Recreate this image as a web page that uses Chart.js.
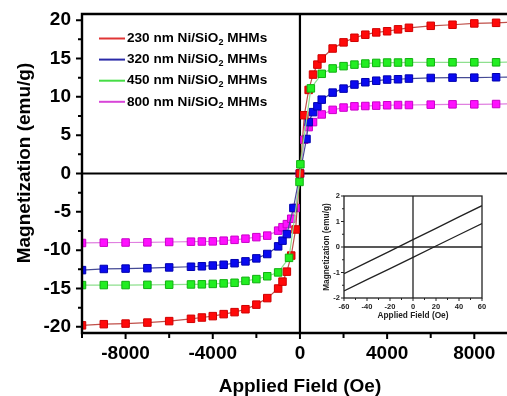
<!DOCTYPE html>
<html><head><meta charset="utf-8">
<script src="https://cdn.jsdelivr.net/npm/chart.js@4.4.1/dist/chart.umd.min.js"></script>
<style>
html,body{margin:0;padding:0;background:#fff;overflow:hidden;}
#wrap{position:relative;width:507px;height:396px;background:#fff;}
#main{position:absolute;left:0;top:0;}
#inset{position:absolute;left:306px;top:190px;}
</style></head><body>
<div id="wrap">
<canvas id="main" width="507" height="396"></canvas>
<canvas id="inset" width="184" height="134"></canvas>
</div>
<script>
// ---------- data (main panel) ----------
const fieldRed = [-10000,-9000,-8000,-7000,-6000,-5000,-4500,-4000,-3500,-3000,-2500,-2000,-1500,-1000,-800,-600,-400,-200,0,200,400,600,800,1000,1500,2000,2500,3000,3500,4000,4500,5000,6000,7000,8000,9000,10000];
const magRed = [-19.8,-19.65,-19.57,-19.44,-19.25,-18.95,-18.78,-18.6,-18.34,-18.08,-17.7,-17.1,-16.25,-15.0,-14.1,-12.8,-10.7,-7.3,0,7.6,10.9,12.9,14.2,15.0,16.3,17.1,17.7,18.1,18.4,18.55,18.8,19.0,19.26,19.4,19.57,19.65,19.75];

const fieldBlue = [-10000,-9000,-8000,-7000,-6000,-5000,-4500,-4000,-3500,-3000,-2500,-2000,-1500,-1000,-800,-600,-300,0,300,400,600,800,1000,1500,2000,2500,3000,3500,4000,4500,5000,6000,7000,8000,9000,10000];
const magBlue = [-12.6,-12.45,-12.4,-12.35,-12.25,-12.16,-12.1,-12.0,-11.9,-11.7,-11.46,-11.07,-10.5,-9.5,-8.76,-7.9,-4.5,0,4.5,6.7,8.0,8.76,9.63,10.55,11.07,11.6,11.9,12.1,12.25,12.29,12.38,12.46,12.5,12.5,12.55,12.6];

const fieldGreen = [-10000,-9000,-8000,-7000,-6000,-5000,-4500,-4000,-3500,-3000,-2500,-2000,-1500,-1000,-500,-20,20,500,1000,1500,2000,2500,3000,3500,4000,4500,5000,6000,7000,8000,9000,10000];
const magGreen = [-14.55,-14.55,-14.55,-14.52,-14.5,-14.47,-14.45,-14.4,-14.33,-14.25,-14.0,-13.77,-13.4,-12.9,-11.0,-1.1,1.2,11.1,13.0,13.7,14.0,14.2,14.34,14.42,14.47,14.47,14.5,14.5,14.5,14.5,14.5,14.55];

const fieldMagenta = [-10000,-9000,-8000,-7000,-6000,-5000,-4500,-4000,-3500,-3000,-2500,-2000,-1500,-1000,-800,-600,-400,-200,0,200,400,600,1000,1500,2000,2500,3000,3500,4000,4500,5000,6000,7000,8000,9000,10000];
const magMagenta = [-9.06,-9.02,-9.0,-8.98,-8.93,-8.89,-8.87,-8.85,-8.76,-8.65,-8.5,-8.3,-8.1,-7.45,-7.0,-6.6,-5.9,-4.5,0,4.4,6.05,6.7,7.7,8.3,8.6,8.76,8.8,8.85,8.9,8.93,8.93,8.98,9.02,9.02,9.06,9.08];

const seriesLabels = ['230 nm Ni/SiO', '320 nm Ni/SiO', '450 nm Ni/SiO', '800 nm Ni/SiO'];
const labelSuffix = ' MHMs';

const xTicksMain = [-8000,-4000,0,4000,8000];
const yTicksMain = [-20,-15,-10,-5,0,5,10,15,20];

// ---------- data (inset) ----------
const fieldInset = [-60,-40,-20,0,20,40,60];
const magInsetUpper = [-1.05,-0.6,-0.16,0.29,0.73,1.18,1.62];
const magInsetLower = [-1.72,-1.28,-0.85,-0.41,0.04,0.48,0.92];
const xTicksInset = [-60,-40,-20,0,20,40,60];
const yTicksInset = [-2,-1,0,1,2];

// ---------- styling ----------
const FONT = '"Liberation Sans", Arial, Helvetica, sans-serif';
Chart.defaults.font.family = FONT;
Chart.defaults.color = '#000';

const styles = [
  {fill:'#ff0a0a', edge:'#d00000', line:'#c0504a', legend:'#e03535'},
  {fill:'#0a0af0', edge:'#0000b0', line:'#454a95', legend:'#2a2aa8'},
  {fill:'#22ee22', edge:'#10b010', line:'#8ee08e', legend:'#45dd45'},
  {fill:'#ff10ff', edge:'#c800c8', line:'#e080e0', legend:'#d845d8'}
];

function toPts(xs, ys){ return xs.map((x,i)=>({x:x, y:ys[i]})); }
function mkSet(i, xs, ys, order){
  const s = styles[i];
  return {
    label: seriesLabels[i] + '2' + labelSuffix,
    data: toPts(xs, ys),
    showLine: true,
    borderColor: s.line,
    borderWidth: 1.2,
    tension: 0,
    pointStyle: 'rect',
    pointRadius: 5.3,
    pointBackgroundColor: s.fill,
    pointBorderColor: s.edge,
    pointBorderWidth: 1,
    order: order
  };
}
function noPad(s){ s.paddingLeft = 0; s.paddingRight = 0; s.paddingTop = 0; s.paddingBottom = 0; }

const mainDeco = {
  id: 'mainDeco',
  beforeDatasetsDraw(chart){
    const {ctx, chartArea:a, scales:{x, y}} = chart;
    ctx.save();
    ctx.strokeStyle = '#000';
    ctx.lineWidth = 2.2;
    const x0 = x.getPixelForValue(0), y0 = y.getPixelForValue(0);
    ctx.beginPath();
    ctx.moveTo(x0, a.top); ctx.lineTo(x0, a.bottom);
    ctx.moveTo(a.left, y0); ctx.lineTo(a.right, y0);
    ctx.stroke();
    ctx.restore();
  },
  afterDraw(chart){
    const {ctx, chartArea:a, scales:{x, y}} = chart;
    ctx.save();
    ctx.strokeStyle = '#000';
    ctx.lineWidth = 2.4;
    ctx.beginPath();
    ctx.moveTo(a.right, a.top); ctx.lineTo(a.left, a.top); ctx.lineTo(a.left, a.bottom); ctx.lineTo(a.right, a.bottom);
    ctx.stroke();
    // tick marks
    ctx.lineWidth = 2;
    ctx.beginPath();
    for (let v = -20; v <= 20.001; v += 2.5) {
      const py = y.getPixelForValue(v);
      const len = (Math.abs(v % 5) < 1e-6) ? 6 : 4;
      ctx.moveTo(a.left, py); ctx.lineTo(a.left - len, py);
    }
    for (let v = -10000; v <= 9000; v += 2000) {
      if (v < x.min) continue;
      const px = x.getPixelForValue(v);
      const len = (Math.abs(v % 4000) < 1e-6) ? 6 : 5;
      ctx.moveTo(px, a.bottom); ctx.lineTo(px, a.bottom + len);
    }
    ctx.stroke();
    // axis titles
    ctx.fillStyle = '#000';
    ctx.font = 'bold 19px ' + FONT;
    ctx.textAlign = 'center';
    ctx.textBaseline = 'middle';
    ctx.fillText('Applied Field (Oe)', x.getPixelForValue(0), 387);
    ctx.save();
    ctx.translate(25, 163);
    ctx.rotate(-Math.PI/2);
    ctx.fillText('Magnetization (emu/g)', 0, 0);
    ctx.restore();
    // legend
    ctx.textAlign = 'left';
    for (let i = 0; i < 4; i++) {
      const ly = 38.5 + i * 21.1;
      ctx.strokeStyle = styles[i].legend;
      ctx.lineWidth = 2;
      ctx.beginPath(); ctx.moveTo(99, ly); ctx.lineTo(125, ly); ctx.stroke();
      let tx = 127;
      ctx.font = 'bold 13.6px ' + FONT;
      ctx.fillStyle = '#000';
      ctx.fillText(seriesLabels[i], tx, ly);
      tx += ctx.measureText(seriesLabels[i]).width;
      ctx.font = 'bold 9px ' + FONT;
      ctx.fillText('2', tx, ly + 4);
      tx += ctx.measureText('2').width;
      ctx.font = 'bold 13.6px ' + FONT;
      ctx.fillText(labelSuffix, tx, ly);
    }
    ctx.restore();
  }
};

new Chart(document.getElementById('main'), {
  type: 'scatter',
  data: {
    datasets: [
      mkSet(0, fieldRed, magRed, 2),
      mkSet(1, fieldBlue, magBlue, 3),
      mkSet(2, fieldGreen, magGreen, 1),
      mkSet(3, fieldMagenta, magMagenta, 4)
    ]
  },
  options: {
    responsive: false,
    animation: false,
    events: [],
    layout: {autoPadding: false, padding: {top: 14, right: 0, left: 0, bottom: 0}},
    plugins: {legend: {display: false}, tooltip: {enabled: false}},
    scales: {
      x: {
        type: 'linear', min: -10000, max: 9500,
        afterBuildTicks: s => { s.ticks = xTicksMain.map(v => ({value: v})); },
        afterFit: s => { s.height = 63; noPad(s); },
        grid: {display: false, drawTicks: false},
        border: {display: false},
        ticks: {font: {size: 19, weight: 'bold'}, color: '#000', padding: 9, maxRotation: 0, autoSkip: false, callback: v => String(v)}
      },
      y: {
        type: 'linear', min: -20.8, max: 20.8,
        afterBuildTicks: s => { s.ticks = yTicksMain.map(v => ({value: v})); },
        afterFit: s => { s.width = 82; noPad(s); },
        grid: {display: false, drawTicks: false},
        border: {display: false},
        ticks: {font: {size: 19, weight: 'bold'}, color: '#000', padding: 11, autoSkip: false, callback: v => String(v)}
      }
    }
  },
  plugins: [mainDeco]
});

// ---------- inset ----------
const insetDeco = {
  id: 'insetDeco',
  beforeDatasetsDraw(chart){
    const {ctx, chartArea:a, scales:{x, y}} = chart;
    ctx.save();
    ctx.strokeStyle = '#222';
    ctx.lineWidth = 1.3;
    const x0 = x.getPixelForValue(0), y0 = y.getPixelForValue(0);
    ctx.beginPath();
    ctx.moveTo(x0, a.top); ctx.lineTo(x0, a.bottom);
    ctx.moveTo(a.left, y0); ctx.lineTo(a.right, y0);
    ctx.stroke();
    ctx.restore();
  },
  afterDraw(chart){
    const {ctx, chartArea:a, scales:{x, y}} = chart;
    ctx.save();
    ctx.strokeStyle = '#222';
    ctx.lineWidth = 1.3;
    ctx.strokeRect(a.left, a.top, a.right - a.left, a.bottom - a.top);
    ctx.lineWidth = 1;
    ctx.beginPath();
    for (let v = -2; v <= 2.001; v += 0.5) {
      const py = y.getPixelForValue(v);
      const len = (Math.abs(v % 1) < 1e-6) ? 3 : 2;
      ctx.moveTo(a.left, py); ctx.lineTo(a.left - len, py);
    }
    for (let v = -60; v <= 60; v += 10) {
      const px = x.getPixelForValue(v);
      const len = (Math.abs(v % 20) < 1e-6) ? 3 : 2;
      ctx.moveTo(px, a.bottom); ctx.lineTo(px, a.bottom + len);
    }
    ctx.stroke();
    ctx.fillStyle = '#222';
    ctx.font = 'bold 8.3px ' + FONT;
    ctx.textAlign = 'center';
    ctx.textBaseline = 'middle';
    ctx.fillText('Applied Field (Oe)', x.getPixelForValue(0), 126);
    ctx.save();
    ctx.translate(21, y.getPixelForValue(0));
    ctx.rotate(-Math.PI/2);
    ctx.fillText('Magnetization (emu/g)', 0, 0);
    ctx.restore();
    ctx.restore();
  }
};

new Chart(document.getElementById('inset'), {
  type: 'scatter',
  data: {
    datasets: [
      {data: toPts(fieldInset, magInsetUpper), showLine: true, borderColor: '#222', borderWidth: 1.3, pointRadius: 0},
      {data: toPts(fieldInset, magInsetLower), showLine: true, borderColor: '#222', borderWidth: 1.3, pointRadius: 0}
    ]
  },
  options: {
    responsive: false,
    animation: false,
    events: [],
    layout: {autoPadding: false, padding: {top: 6, right: 8, left: 0, bottom: 0}},
    plugins: {legend: {display: false}, tooltip: {enabled: false}},
    scales: {
      x: {
        type: 'linear', min: -60, max: 60,
        afterBuildTicks: s => { s.ticks = xTicksInset.map(v => ({value: v})); },
        afterFit: s => { s.height = 26; noPad(s); },
        grid: {display: false, drawTicks: false},
        border: {display: false},
        ticks: {font: {size: 7.5, weight: 'bold'}, color: '#222', padding: 4, maxRotation: 0, autoSkip: false, callback: v => String(v)}
      },
      y: {
        type: 'linear', min: -2, max: 2,
        afterBuildTicks: s => { s.ticks = yTicksInset.map(v => ({value: v})); },
        afterFit: s => { s.width = 38; noPad(s); },
        grid: {display: false, drawTicks: false},
        border: {display: false},
        ticks: {font: {size: 7.5, weight: 'bold'}, color: '#222', padding: 4, autoSkip: false, callback: v => String(v)}
      }
    }
  },
  plugins: [insetDeco]
});
</script>
</body></html>
